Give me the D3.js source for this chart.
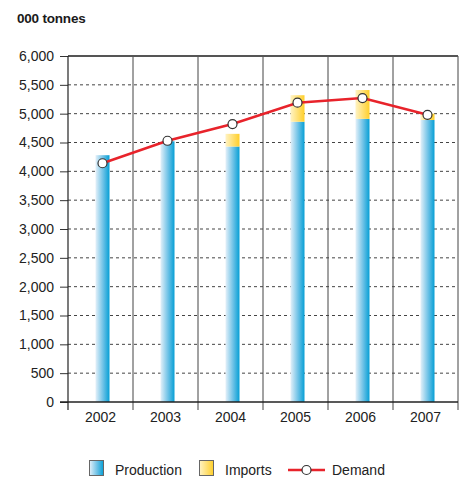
<!DOCTYPE html>
<html>
<head>
<meta charset="utf-8">
<script src="https://cdn.jsdelivr.net/npm/d3@7"></script>
<style>
  html, body { margin: 0; padding: 0; background: #fff; }
  svg { display: block; font-family: "Liberation Sans", Arial, sans-serif; }
</style>
</head>
<body>
<svg id="chart" width="465" height="478"></svg>
<script>
// Supply and demand, thousand tonnes
const years = ["2002", "2003", "2004", "2005", "2006", "2007"];
const production = [4280, 4520, 4430, 4860, 4910, 4890];
const imports = [0, 0, 220, 460, 500, 110];
const demand = [4140, 4530, 4820, 5190, 5270, 4980];
const yTicks = [0, 500, 1000, 1500, 2000, 2500, 3000, 3500, 4000, 4500, 5000, 5500, 6000];

const svg = d3.select("#chart");
const m = { left: 68, right: 458, top: 56, bottom: 402 };

const x = d3.scaleBand().domain(years).range([m.left, m.right]).padding(0);
const y = d3.scaleLinear().domain([0, 6000]).range([m.bottom, m.top]);
const barW = 14;
const barOffset = 2;
const cx = d => x(d) + x.bandwidth() / 2 + barOffset;

// gradients
const defs = svg.append("defs");
const gBlue = defs.append("linearGradient").attr("id", "gBlue");
gBlue.append("stop").attr("offset", "0%").attr("stop-color", "#e4f0f9");
gBlue.append("stop").attr("offset", "55%").attr("stop-color", "#6cc1e6");
gBlue.append("stop").attr("offset", "100%").attr("stop-color", "#069fd5");
const gYellow = defs.append("linearGradient").attr("id", "gYellow");
gYellow.append("stop").attr("offset", "0%").attr("stop-color", "#fff3c4");
gYellow.append("stop").attr("offset", "100%").attr("stop-color", "#ffcf2a");

// title
svg.append("text").attr("x", 17).attr("y", 23)
  .attr("font-size", 13.5).attr("font-weight", "bold").attr("fill", "#1a1a1a")
  .attr("letter-spacing", -0.2)
  .text("000 tonnes");

// horizontal dashed gridlines
svg.append("g").selectAll("line")
  .data(yTicks.filter(t => t > 0 && t < 6000))
  .join("line")
  .attr("x1", m.left).attr("x2", m.right)
  .attr("y1", d => y(d)).attr("y2", d => y(d))
  .attr("stroke", "#444").attr("stroke-width", 1)
  .attr("stroke-dasharray", "3,3");

// vertical column separators
svg.append("g").selectAll("line")
  .data(years.slice(1).map(d => x(d)).concat([m.right]))
  .join("line")
  .attr("x1", d => d).attr("x2", d => d)
  .attr("y1", m.top).attr("y2", m.bottom + 8)
  .attr("stroke", "#444").attr("stroke-width", 1);

// top border
svg.append("line").attr("x1", m.left).attr("x2", m.right)
  .attr("y1", y(6000)).attr("y2", y(6000))
  .attr("stroke", "#555").attr("stroke-width", 2);

// bars: production
svg.append("g").selectAll("rect")
  .data(years)
  .join("rect")
  .attr("x", d => cx(d) - barW / 2)
  .attr("width", barW)
  .attr("y", (d, i) => y(production[i]))
  .attr("height", (d, i) => y(0) - y(production[i]))
  .attr("fill", "url(#gBlue)");

// bars: imports stacked on top
svg.append("g").selectAll("rect")
  .data(years)
  .join("rect")
  .attr("x", d => cx(d) - barW / 2)
  .attr("width", barW)
  .attr("y", (d, i) => y(production[i] + imports[i]))
  .attr("height", (d, i) => y(production[i]) - y(production[i] + imports[i]))
  .attr("fill", "url(#gYellow)");

// y axis
const yAxis = d3.axisLeft(y).tickValues(yTicks).tickSize(8).tickPadding(6)
  .tickFormat(d3.format(","));
const gy = svg.append("g").attr("transform", `translate(${m.left},0)`).call(yAxis);
gy.select(".domain").remove();
gy.selectAll(".tick line").attr("stroke", "#333");
gy.selectAll(".tick text").attr("font-size", 14).attr("fill", "#222")
  .attr("font-family", "Liberation Sans, Arial, sans-serif");
svg.append("line").attr("x1", m.left).attr("x2", m.left)
  .attr("y1", m.top).attr("y2", m.bottom + 8)
  .attr("stroke", "#222").attr("stroke-width", 1.2);

// x axis baseline
svg.append("line").attr("x1", m.left - 8).attr("x2", m.right)
  .attr("y1", y(0)).attr("y2", y(0))
  .attr("stroke", "#222").attr("stroke-width", 1.5);

// x labels
const xAxis = d3.axisBottom(x).tickSize(0).tickPadding(10);
const gx = svg.append("g").attr("transform", `translate(0,${m.bottom})`).call(xAxis);
gx.select(".domain").remove();
gx.selectAll(".tick text").attr("font-size", 14).attr("fill", "#222")
  .attr("font-family", "Liberation Sans, Arial, sans-serif");

// demand line
const line = d3.line().x((d, i) => cx(years[i])).y(d => y(d));
svg.append("path").datum(demand)
  .attr("d", line)
  .attr("fill", "none").attr("stroke", "#e8232b").attr("stroke-width", 2.5);
svg.append("g").selectAll("circle")
  .data(demand)
  .join("circle")
  .attr("cx", (d, i) => cx(years[i]))
  .attr("cy", d => y(d))
  .attr("r", 4.5)
  .attr("fill", "#fff").attr("stroke", "#333").attr("stroke-width", 1.2);

// legend
const lg = svg.append("g").attr("font-size", 14).attr("fill", "#222");
lg.append("rect").attr("x", 89.5).attr("y", 460.5).attr("width", 14).attr("height", 15)
  .attr("fill", "url(#gBlue)").attr("stroke", "#666").attr("stroke-width", 1);
lg.append("text").attr("x", 115).attr("y", 474.5).text("Production");
lg.append("rect").attr("x", 199.5).attr("y", 460.5).attr("width", 14).attr("height", 15)
  .attr("fill", "url(#gYellow)").attr("stroke", "#666").attr("stroke-width", 1);
lg.append("text").attr("x", 225).attr("y", 474.5).text("Imports");
lg.append("line").attr("x1", 288).attr("x2", 325).attr("y1", 470).attr("y2", 470)
  .attr("stroke", "#e8232b").attr("stroke-width", 2.5);
lg.append("circle").attr("cx", 306.5).attr("cy", 470).attr("r", 4.5)
  .attr("fill", "#fff").attr("stroke", "#333").attr("stroke-width", 1.2);
lg.append("text").attr("x", 332).attr("y", 474.5).text("Demand");
</script>
</body>
</html>
